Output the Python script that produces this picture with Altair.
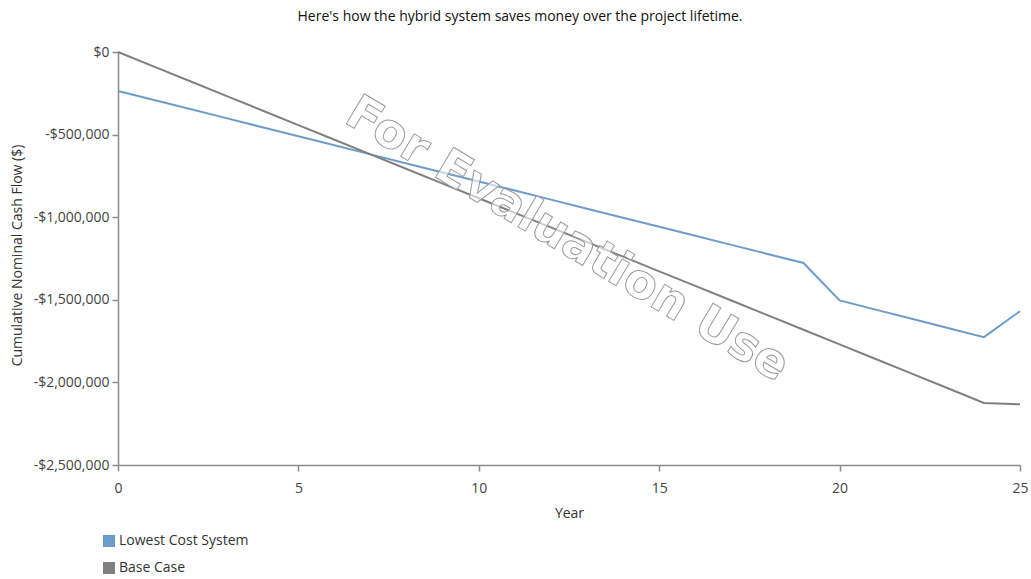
import altair as alt
import pandas as pd

# Cumulative nominal cash flow by project year
years = list(range(0, 26))
lowest_cost = [
    -236000, -290800, -345600, -400400, -455200, -510000, -564800, -619600,
    -674400, -729200, -784000, -838800, -893600, -948400, -1003200, -1058000,
    -1112800, -1167600, -1222400, -1277200, -1504000, -1559500, -1615000,
    -1670500, -1726000, -1569000,
]
base_case = [
    0, -88500, -177000, -265500, -354000, -442500, -531000, -619500,
    -708000, -796500, -885000, -973500, -1062000, -1150500, -1239000, -1327500,
    -1416000, -1504500, -1593000, -1681500, -1770000, -1858500, -1947000,
    -2035500, -2124000, -2133000,
]
series_names = ["Lowest Cost System", "Base Case"]
series_colors = ["#6e9cc9", "#808080"]

rows = []
for name, vals in zip(series_names, [lowest_cost, base_case]):
    for yr, v in zip(years, vals):
        rows.append({"Year": yr, "Cash": v, "Series": name})
df = pd.DataFrame(rows)

FONT = "Open Sans"

lines = alt.Chart(df).mark_line(strokeWidth=2).encode(
    x=alt.X(
        "Year:Q",
        scale=alt.Scale(domain=[0, 25], nice=False, zero=False),
        axis=alt.Axis(
            values=[0, 5, 10, 15, 20, 25],
            title="Year",
            grid=False,
            tickSize=6,
            labelPadding=10,
            labelFlush=False,
            titlePadding=11,
        ),
    ),
    y=alt.Y(
        "Cash:Q",
        scale=alt.Scale(domain=[-2500000, 0], nice=False),
        axis=alt.Axis(
            values=[0, -500000, -1000000, -1500000, -2000000, -2500000],
            labelExpr="datum.value == 0 ? '$0' : '-$' + format(-datum.value, ',.0f')",
            title="Cumulative Nominal Cash Flow ($)",
            grid=False,
            tickSize=6,
            labelPadding=3,
            titleX=-94,
            titleY=203,
        ),
    ),
    color=alt.Color(
        "Series:N",
        sort=series_names,
        scale=alt.Scale(domain=series_names, range=series_colors),
        legend=alt.Legend(
            title=None,
            orient="none",
            legendX=-16,
            legendY=482,
            symbolType="square",
            symbolSize=36,
            symbolStrokeWidth=6,
            labelFontSize=14,
            labelFont=FONT,
            labelColor="#333333",
            labelOffset=3,
            rowPadding=-3,
            padding=0,
        ),
    ),
    order="Year:Q",
)

watermark = alt.Chart(pd.DataFrame({"t": ["For Evaluation Use"]})).mark_text(
    font="DejaVu Sans",
    fontWeight="bold",
    fontSize=48,
    angle=31,
    align="center",
    baseline="middle",
    fill="white",
    fillOpacity=0.6,
    stroke="#9a9a9a",
    strokeWidth=1,
).encode(
    text="t:N",
    x=alt.value(449),
    y=alt.value(188),
)

chart = (
    alt.layer(lines, watermark)
    .properties(
        width=902,
        height=413,
        autosize=alt.AutoSizeParams(type="none"),
        padding={"left": 118, "top": 52, "right": 11, "bottom": 114},
        title=alt.TitleParams(
            "Here's how the hybrid system saves money over the project lifetime.",
            font=FONT,
            fontSize=14,
            fontWeight="normal",
            color="#111111",
            anchor="middle",
            dx=-49,
            offset=21,
        ),
    )
    .configure_view(stroke=None)
    .configure_axis(
        domainColor="#8c8c8c",
        domainWidth=1.5,
        tickColor="#8c8c8c",
        tickWidth=1.5,
        labelFont=FONT,
        labelFontSize=14,
        labelColor="#444444",
        titleFont=FONT,
        titleFontSize=14,
        titleFontWeight="normal",
        titleColor="#333333",
    )
)

chart.save("out.html", embed_options={"renderer": "svg", "actions": False})
